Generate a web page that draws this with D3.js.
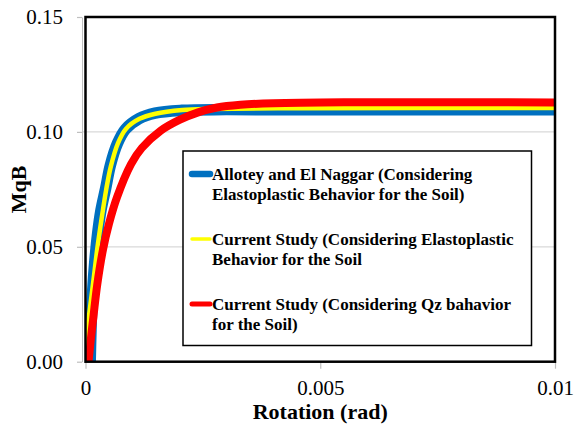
<!DOCTYPE html>
<html>
<head>
<meta charset="utf-8">
<script src="https://cdn.jsdelivr.net/npm/d3@7"></script>
<style>
  html, body { margin: 0; padding: 0; background: #fff; }
  svg { display: block; }
</style>
</head>
<body>
<svg id="chart" width="574" height="426"></svg>
<script>
// Rotation (rad) and normalised moment MqB for each series
const alloteyRotation = [0.0001, 0.00012, 0.00015, 0.0002, 0.00026, 0.00033, 0.00043, 0.00053, 0.00068, 0.00085, 0.00114, 0.00148, 0.00205, 0.0030, 0.0050, 0.01];
const alloteyMqB      = [0, 0.016, 0.030, 0.044, 0.056, 0.0660, 0.0755, 0.0855, 0.0950, 0.1012, 0.1058, 0.1082, 0.1094, 0.1097, 0.1096, 0.1096];

const elastoRotation = [0, 0.00004, 0.0001, 0.00017, 0.00025, 0.00034, 0.00044, 0.00054, 0.00069, 0.00086, 0.00115, 0.00149, 0.00206, 0.00262, 0.0046, 0.01];
const elastoMqB      = [0, 0.0138, 0.024, 0.0355, 0.049, 0.0618, 0.0748, 0.0850, 0.0950, 0.1013, 0.1057, 0.1079, 0.1095, 0.1100, 0.1103, 0.1104];

const qzRotation = [0.000064, 0.00012, 0.00017, 0.00025, 0.00037, 0.0005, 0.00067, 0.00097, 0.0012, 0.0016, 0.002, 0.0024, 0.0028, 0.0033, 0.004, 0.0055, 0.01];
const qzMqB      = [0, 0.0110, 0.0198, 0.0335, 0.0485, 0.060, 0.0715, 0.0860, 0.0930, 0.1005, 0.1052, 0.1085, 0.1106, 0.1118, 0.1125, 0.1129, 0.1128];

const xTicks = [0, 0.005, 0.01];
const xTickLabels = ["0", "0.005", "0.01"];
const yTicks = [0, 0.05, 0.10, 0.15];
const yTickLabels = ["0.00", "0.05", "0.10", "0.15"];

const seriesNames = [
  ["Allotey and El Naggar (Considering", "Elastoplastic Behavior for the Soil)"],
  ["Current Study (Considering Elastoplastic", "Behavior for the Soil"],
  ["Current Study (Considering Qz bahavior", "for the Soil)"]
];
const seriesColors = ["#0070C0", "#FFFF00", "#FF0000"];

const xTitle = "Rotation (rad)";
const yTitle = "MqB";

const FONT = "'Liberation Serif', 'Times New Roman', Times, serif";

const svg = d3.select("#chart");
const plot = { left: 85.5, right: 555, top: 17, bottom: 361.7 };

const x = d3.scaleLinear().domain([0, 0.01]).range([plot.left, plot.right]);
const y = d3.scaleLinear().domain([0, 0.15]).range([plot.bottom, plot.top]);

// horizontal gridlines
svg.append("g")
  .selectAll("line")
  .data(yTicks.filter(v => v > 0 && v < 0.15))
  .join("line")
  .attr("x1", 82).attr("x2", plot.right)
  .attr("y1", d => y(d)).attr("y2", d => y(d))
  .attr("stroke", "#d9d9d9").attr("stroke-width", 1.2);

// y axis (gray line with outward ticks)
const yAxis = d3.axisLeft(y)
  .tickValues(yTicks)
  .tickFormat((d, i) => yTickLabels[i])
  .tickSizeInner(5)
  .tickSizeOuter(0)
  .tickPadding(14);
const gy = svg.append("g").attr("transform", "translate(82,0)").call(yAxis)
  .attr("font-family", FONT).attr("font-size", 21);
gy.select(".domain").attr("stroke", "#bfbfbf").attr("stroke-width", 1);
gy.selectAll(".tick line").attr("stroke", "#bfbfbf").attr("stroke-width", 1.2);
gy.selectAll(".tick text").attr("fill", "#000");

// x axis
const xAxis = d3.axisBottom(x)
  .tickValues(xTicks)
  .tickFormat((d, i) => xTickLabels[i])
  .tickSizeInner(7)
  .tickSizeOuter(0)
  .tickPadding(11);
const gx = svg.append("g").attr("transform", `translate(0,${plot.bottom})`).call(xAxis)
  .attr("font-family", FONT).attr("font-size", 21);
gx.select(".domain").remove();
gx.selectAll(".tick line").attr("stroke", "#bfbfbf").attr("stroke-width", 1.2);
gx.selectAll(".tick text").attr("fill", "#000");

// clip the curves to the plotting area
svg.append("clipPath").attr("id", "plotClip")
  .append("rect")
  .attr("x", plot.left).attr("y", plot.top)
  .attr("width", plot.right - plot.left).attr("height", plot.bottom - plot.top);

const line = d3.line()
  .x(d => x(d[0]))
  .y(d => y(d[1]))
  .curve(d3.curveCatmullRom.alpha(0.5));

const series = [
  { xs: alloteyRotation, ys: alloteyMqB, width: 11.5 },
  { xs: elastoRotation, ys: elastoMqB, width: 4.5 },
  { xs: qzRotation, ys: qzMqB, width: 8 }
];

const curves = svg.append("g").attr("clip-path", "url(#plotClip)");
series.forEach((s, i) => {
  curves.append("path")
    .datum(s.xs.map((v, j) => [v, s.ys[j]]))
    .attr("d", line)
    .attr("fill", "none")
    .attr("stroke", seriesColors[i])
    .attr("stroke-width", s.width)
    .attr("stroke-linejoin", "round")
    .attr("stroke-linecap", "butt");
});

// plot frame
svg.append("rect")
  .attr("x", plot.left).attr("y", plot.top)
  .attr("width", plot.right - plot.left).attr("height", plot.bottom - plot.top)
  .attr("fill", "none").attr("stroke", "#000").attr("stroke-width", 2.5);

// axis titles
svg.append("text")
  .attr("x", (plot.left + plot.right) / 2)
  .attr("y", 419)
  .attr("text-anchor", "middle")
  .attr("font-family", FONT)
  .attr("font-size", 22)
  .attr("font-weight", "bold")
  .text(xTitle);

svg.append("text")
  .attr("transform", `translate(26,${(plot.top + plot.bottom) / 2}) rotate(-90)`)
  .attr("text-anchor", "middle")
  .attr("font-family", FONT)
  .attr("font-size", 22)
  .attr("font-weight", "bold")
  .text(yTitle);

// legend
const legend = svg.append("g");
legend.append("rect")
  .attr("x", 183).attr("y", 151)
  .attr("width", 348.5).attr("height", 194.5)
  .attr("fill", "#fff").attr("stroke", "#000").attr("stroke-width", 1.5);

const legendRowY = [174, 239, 304];
const legendSwatchWidth = [6.5, 3.5, 5];
seriesNames.forEach((lines, i) => {
  const cy = legendRowY[i];
  legend.append("line")
    .attr("x1", 192).attr("x2", 210)
    .attr("y1", cy).attr("y2", cy)
    .attr("stroke", seriesColors[i])
    .attr("stroke-width", legendSwatchWidth[i])
    .attr("stroke-linecap", "round");
  lines.forEach((t, k) => {
    legend.append("text")
      .attr("x", 212)
      .attr("y", cy + 6 + k * 20)
      .attr("font-family", FONT)
      .attr("font-size", 17)
      .attr("font-weight", "bold")
      .text(t);
  });
});
</script>
</body>
</html>
